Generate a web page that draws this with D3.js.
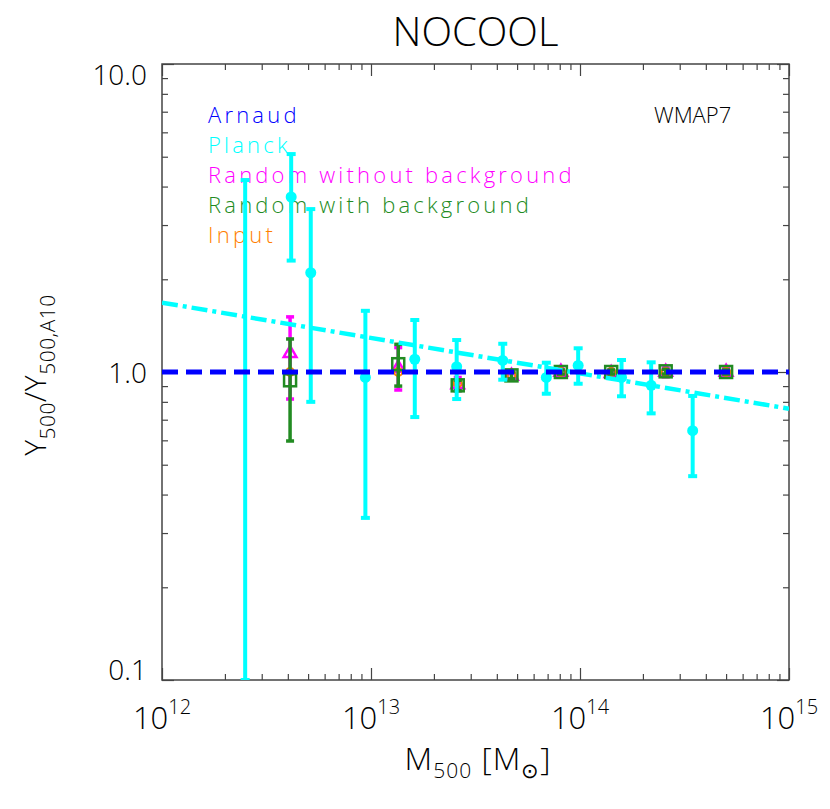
<!DOCTYPE html>
<html>
<head>
<meta charset="utf-8">
<title>NOCOOL</title>
<style>
  body { margin:0; background:#fff; }
  svg { display:block; font-family: 'Open Sans', 'Liberation Sans', Arial, sans-serif; font-weight: 300; }
  .frame { fill:none; stroke:#444; stroke-width:1.5; }
  .tick line { stroke:#444; stroke-width:1.2; }
</style>
</head>
<body>
<div id="chart"></div>
<script src="https://cdn.jsdelivr.net/npm/d3@7/dist/d3.min.js"></script>
<script>

// ---- data ----
var xTicks = [1e12, 1e13, 1e14, 1e15];
var xTickExp = ["12", "13", "14", "15"];
var yTicks = [0.1, 1, 10];
var yTickLabels = ["0.1", "1.0", "10.0"];

// Arnaud relation (reference) and Planck scaling, relative to A10
var arnaudM = [1e12, 1e15];
var arnaudY = [1, 1];
var planckFitM = [1e12, 1e15];
var planckFitY = [1.68, 0.76];

// Planck points
var planckM  = [2.5e12, 4.15e12, 5.15e12, 9.4e12, 1.62e13, 2.57e13, 4.27e13, 6.9e13, 9.8e13, 1.58e14, 2.19e14, 3.46e14];
var planckY  = [0.09, 3.7, 2.1, 0.96, 1.10, 1.04, 1.09, 0.96, 1.05, 0.96, 0.905, 0.645];
var planckLo = [0.1, 2.3, 0.80, 0.336, 0.714, 0.817, 0.944, 0.85, 0.916, 0.834, 0.734, 0.459];
var planckHi = [4.2, 5.1, 3.38, 1.58, 1.475, 1.27, 1.235, 1.072, 1.194, 1.094, 1.075, 0.836];

// simulated samples
var simM = [4.1e12, 1.35e13, 2.6e13, 4.7e13, 8.1e13, 1.41e14, 2.57e14, 5.0e14];

var noBgY  = [1.15, 1.03, 0.91, 0.97, 1.0, 0.99, 1.0, 1.0];
var noBgLo = [0.817, 0.874, 0.87, 0.95, 0.98, 0.965, 0.965, 0.98];
var noBgHi = [1.51, 1.20, 0.96, 1.00, 1.02, 1.01, 1.03, 1.03];

var bgY  = [0.94, 1.06, 0.905, 0.975, 1.0, 1.0, 1.005, 1.0];
var bgLo = [0.597, 0.9, 0.87, 0.95, 0.985, 0.985, 0.985, 0.985];
var bgHi = [1.28, 1.23, 0.94, 1.0, 1.015, 1.015, 1.02, 1.015];

var inputY = [1.0, 1.0, 0.92, 0.98, 1.0, 1.0, 1.0, 1.0];

var legendLabels = ["Arnaud", "Planck", "Random without background", "Random with background", "Input"];
var legendColors = ["#0000ff", "#00ffff", "#ff00ff", "#228b22", "#ff7f00"];

// ---- layout ----
var width = 830, height = 809;
var plotLeft = 162, plotRight = 789, plotTop = 64, plotBottom = 680;

var x = d3.scaleLog().domain([1e12, 1e15]).range([plotLeft, plotRight]);
var y = d3.scaleLog().domain([0.1, 10]).range([plotBottom, plotTop]);

function minors(lo, hi) {
    var out = [];
    for (var e = lo; e < hi; e++)
        for (var k = 2; k <= 9; k++) out.push(k * Math.pow(10, e));
    return out;
}
var xMinor = minors(12, 15);
var yMinor = minors(-1, 1);

var svg = d3.select("#chart").append("svg")
    .attr("width", width)
    .attr("height", height);

svg.append("defs").append("clipPath").attr("id", "clip")
  .append("rect")
    .attr("x", plotLeft).attr("y", plotTop)
    .attr("width", plotRight - plotLeft).attr("height", plotBottom - plotTop);

// ---- axes (ticks inward on all four sides) ----
function tickAxis(axis, tr, vals, size) {
    svg.append("g")
        .attr("transform", tr)
        .call(axis.tickValues(vals).tickSize(size).tickFormat(""))
        .call(function(g) { g.select(".domain").remove(); });
}
tickAxis(d3.axisBottom(x), "translate(0," + plotBottom + ")", xTicks, -12);
tickAxis(d3.axisBottom(x), "translate(0," + plotBottom + ")", xMinor, -6);
tickAxis(d3.axisTop(x), "translate(0," + plotTop + ")", xTicks, -12);
tickAxis(d3.axisTop(x), "translate(0," + plotTop + ")", xMinor, -6);
tickAxis(d3.axisLeft(y), "translate(" + plotLeft + ",0)", yTicks, -12);
tickAxis(d3.axisLeft(y), "translate(" + plotLeft + ",0)", yMinor, -6);
tickAxis(d3.axisRight(y), "translate(" + plotRight + ",0)", yTicks, -12);
tickAxis(d3.axisRight(y), "translate(" + plotRight + ",0)", yMinor, -6);

svg.append("rect").attr("class", "frame")
    .attr("x", plotLeft).attr("y", plotTop)
    .attr("width", plotRight - plotLeft).attr("height", plotBottom - plotTop);

// tick labels
var xl = svg.append("g").selectAll("text")
    .data(xTicks).enter().append("text")
    .attr("x", function(d) { return x(d); })
    .attr("y", 729)
    .attr("text-anchor", "middle")
    .attr("font-size", 31)
    .text("10");
xl.append("tspan")
    .attr("dy", -15)
    .attr("font-size", 20)
    .text(function(d, i) { return xTickExp[i]; });

svg.append("g").selectAll("text")
    .data(yTicks).enter().append("text")
    .attr("x", 147)
    .attr("y", function(d) { return Math.min(Math.max(y(d) + 11, plotTop + 21), plotBottom); })
    .attr("text-anchor", "end")
    .attr("font-size", 28)
    .text(function(d, i) { return yTickLabels[i]; });

// titles
svg.append("text")
    .attr("x", (plotLeft + plotRight) / 2).attr("y", 46)
    .attr("text-anchor", "middle")
    .attr("font-size", 40)
    .text("NOCOOL");

var xt = svg.append("text")
    .attr("x", 478).attr("y", 770)
    .attr("text-anchor", "middle")
    .attr("font-size", 32)
    .attr("letter-spacing", 1);
xt.append("tspan").text("M");
xt.append("tspan").attr("dy", 8).attr("font-size", 21).text("500");
xt.append("tspan").attr("dy", -8).text(" [M");
xt.append("tspan").attr("dy", 8).attr("font-size", 21).text("\u2299");
xt.append("tspan").attr("dy", -8).text("]");

var yt = svg.append("text")
    .attr("transform", "translate(46,375) rotate(-90)")
    .attr("text-anchor", "middle")
    .attr("font-size", 30)
    .attr("letter-spacing", 0.5);
yt.append("tspan").text("Y");
yt.append("tspan").attr("dy", 9).attr("font-size", 21).text("500");
yt.append("tspan").attr("dy", -9).text("/Y");
yt.append("tspan").attr("dy", 9).attr("font-size", 21).text("500,A10");

// legend
svg.append("g").selectAll("text")
    .data(legendLabels).enter().append("text")
    .attr("x", 208)
    .attr("y", function(d, i) { return 123 + i * 30; })
    .attr("font-size", 22)
    .attr("letter-spacing", 3.2)
    .attr("fill", function(d, i) { return legendColors[i]; })
    .text(function(d) { return d; });

svg.append("text")
    .attr("x", 654).attr("y", 123)
    .attr("font-size", 22)
    .text("WMAP7");

// ---- data layer ----
var plot = svg.append("g").attr("clip-path", "url(#clip)");

function errorBars(M, lo, hi, color, capW, sw) {
    var g = plot.append("g").attr("stroke", color).attr("stroke-width", sw);
    g.selectAll("line.bar").data(M).enter().append("line")
        .attr("x1", function(d) { return x(d); })
        .attr("x2", function(d) { return x(d); })
        .attr("y1", function(d, i) { return y(lo[i]); })
        .attr("y2", function(d, i) { return y(hi[i]); });
    [lo, hi].forEach(function(arr) {
        g.selectAll(null).data(M).enter().append("line")
            .attr("x1", function(d) { return x(d) - capW / 2; })
            .attr("x2", function(d) { return x(d) + capW / 2; })
            .attr("y1", function(d, i) { return y(arr[i]); })
            .attr("y2", function(d, i) { return y(arr[i]); });
    });
}

// random without background: open triangles
errorBars(simM, noBgLo, noBgHi, "#ff00ff", 8, 3.5);
plot.append("g").selectAll("path")
    .data(simM).enter().append("path")
    .attr("transform", function(d, i) { return "translate(" + x(d) + "," + y(noBgY[i]) + ")"; })
    .attr("d", d3.symbol(d3.symbolTriangle, 70))
    .attr("fill", "none").attr("stroke", "#ff00ff").attr("stroke-width", 2.5);

// input: small open circles
plot.append("g").selectAll("circle")
    .data(simM).enter().append("circle")
    .attr("cx", function(d) { return x(d); })
    .attr("cy", function(d, i) { return y(inputY[i]); })
    .attr("r", 4)
    .attr("fill", "none").attr("stroke", "#ff7f00").attr("stroke-width", 2);

// random with background: open squares
errorBars(simM, bgLo, bgHi, "#228b22", 8, 3.5);
plot.append("g").selectAll("rect")
    .data(simM).enter().append("rect")
    .attr("x", function(d) { return x(d) - 6; })
    .attr("y", function(d, i) { return y(bgY[i]) - 6; })
    .attr("width", 12).attr("height", 12)
    .attr("fill", "none").attr("stroke", "#228b22").attr("stroke-width", 2.5);

// Planck points
errorBars(planckM, planckLo, planckHi, "#00ffff", 9, 4);
plot.append("g").selectAll("circle")
    .data(planckM).enter().append("circle")
    .attr("cx", function(d) { return x(d); })
    .attr("cy", function(d, i) { return y(planckY[i]); })
    .attr("r", 5.5)
    .attr("fill", "#00ffff");

// relations
var line = d3.line()
    .x(function(d) { return x(d[0]); })
    .y(function(d) { return y(d[1]); });

plot.append("path")
    .datum(d3.zip(planckFitM, planckFitY))
    .attr("d", line)
    .attr("fill", "none").attr("stroke", "#00ffff").attr("stroke-width", 4.5)
    .attr("stroke-dasharray", "16,5,4,5");

plot.append("path")
    .datum(d3.zip(arnaudM, arnaudY))
    .attr("d", line)
    .attr("fill", "none").attr("stroke", "#0000ff").attr("stroke-width", 5)
    .attr("stroke-dasharray", "16,8");

</script>
</body>
</html>
